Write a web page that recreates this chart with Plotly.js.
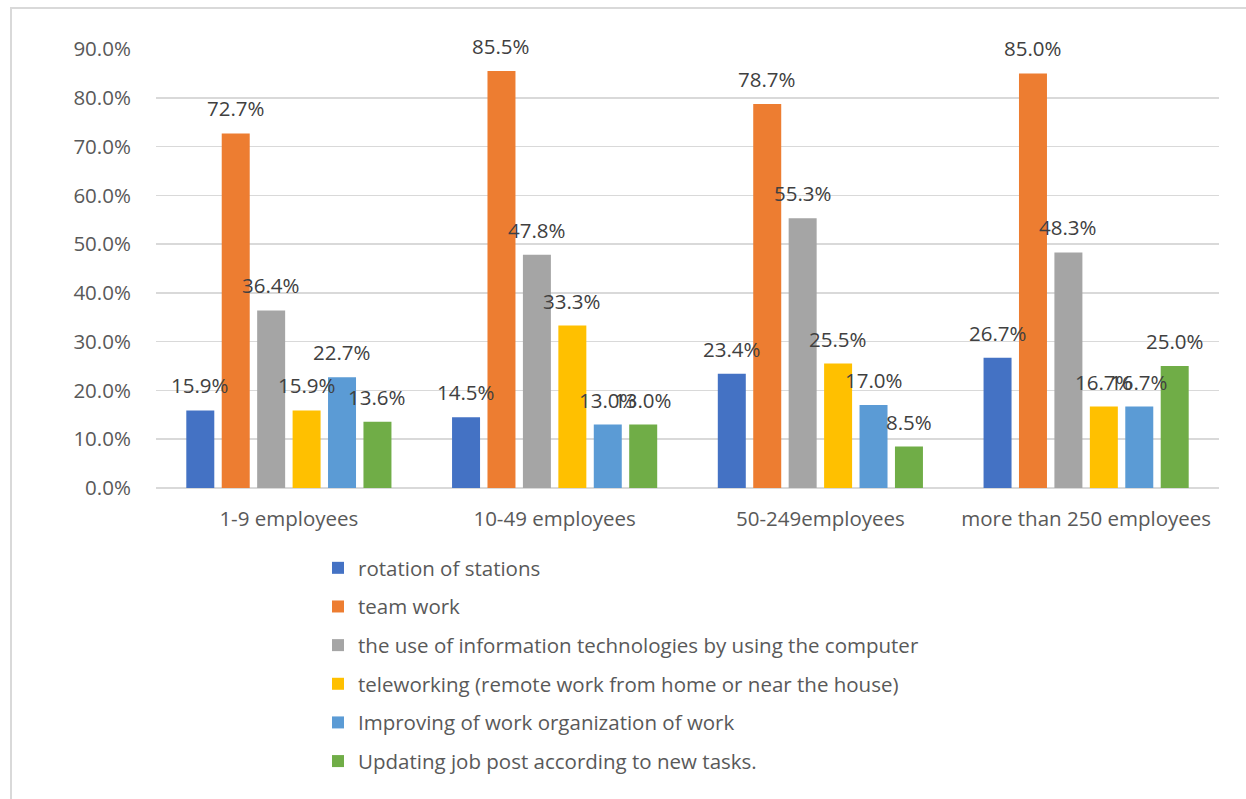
<!DOCTYPE html>
<html>
<head>
<meta charset="utf-8">
<script src="https://cdn.plot.ly/plotly-3.0.1.min.js"></script>
<style>
  html, body { margin: 0; padding: 0; background: #ffffff; }
  #frame { position: absolute; left: 10px; top: 7px; width: 1300px; height: 900px; border: 2px solid #d9d9d9; box-sizing: border-box; pointer-events: none; }
  #chart { position: absolute; left: 0; top: 0; width: 1246px; height: 799px; }
</style>
</head>
<body>
<div id="frame"></div>
<div id="chart"></div>
<script>
const categories = ["1-9 employees", "10-49 employees", "50-249employees", "more than 250 employees"];
const seriesNames = [
  "rotation of stations",
  "team work",
  "the use of information technologies by using the computer",
  "teleworking (remote work from home or near the house)",
  "Improving of work organization of work",
  "Updating job post according to new tasks."
];
const rotationOfStations = [15.9, 14.5, 23.4, 26.7];
const teamWork = [72.7, 85.5, 78.7, 85.0];
const informationTechnologies = [36.4, 47.8, 55.3, 48.3];
const teleworking = [15.9, 33.3, 25.5, 16.7];
const improvingWorkOrganization = [22.7, 13.0, 17.0, 16.7];
const updatingJobPost = [13.6, 13.0, 8.5, 25.0];
const seriesValues = [rotationOfStations, teamWork, informationTechnologies, teleworking, improvingWorkOrganization, updatingJobPost];
const seriesColors = ["#4472C4", "#ED7D31", "#A5A5A5", "#FFC000", "#5B9BD5", "#70AD47"];
const yTickValues = [0, 10, 20, 30, 40, 50, 60, 70, 80, 90];
const yTickLabels = ["0.0%", "10.0%", "20.0%", "30.0%", "40.0%", "50.0%", "60.0%", "70.0%", "80.0%", "90.0%"];

const FONT = '"Open Sans", "Liberation Sans", sans-serif';
const BARGAP = 0.2;
const BARGROUPGAP = 0.21;

const traces = seriesValues.map((vals, i) => ({
  type: 'bar',
  name: seriesNames[i],
  x: categories.map((c, j) => j),
  y: vals,
  marker: { color: seriesColors[i], line: { width: 0 } },
  legendgroup: 'g' + i,
  hoverinfo: 'none'
}));

const n = seriesValues.length;
const slot = (1 - BARGAP) / n;
const annotations = [];
seriesValues.forEach((vals, i) => {
  vals.forEach((v, j) => {
    annotations.push({
      x: j + (i - (n - 1) / 2) * slot,
      y: v,
      xref: 'x', yref: 'y',
      text: v.toFixed(1) + '%',
      showarrow: false,
      yanchor: 'middle',
      yshift: 25,
      font: { family: FONT, size: 20.5, color: '#404040' }
    });
  });
});

const layout = {
  width: 1246,
  height: 799,
  margin: { l: 156, r: 27, t: 49, b: 311 },
  paper_bgcolor: 'rgba(0,0,0,0)',
  plot_bgcolor: 'rgba(0,0,0,0)',
  barmode: 'group',
  bargap: BARGAP,
  bargroupgap: BARGROUPGAP,
  showlegend: true,
  font: { family: FONT, size: 20.5, color: '#595959' },
  xaxis: {
    type: 'linear',
    range: [-0.5, categories.length - 0.5],
    tickvals: categories.map((c, j) => j),
    ticktext: categories,
    tickangle: 0,
    automargin: false,
    showgrid: false,
    zeroline: false,
    showline: false,
    ticks: 'outside',
    ticklen: 12,
    tickcolor: 'rgba(0,0,0,0)',
    tickfont: { family: FONT, size: 20.5, color: '#595959' },
    fixedrange: true
  },
  yaxis: {
    range: [0, 90],
    tickvals: yTickValues,
    ticktext: yTickLabels,
    automargin: false,
    showgrid: true,
    gridcolor: '#d9d9d9',
    gridwidth: 1.5,
    zeroline: true,
    zerolinecolor: '#d9d9d9',
    zerolinewidth: 1.5,
    showline: false,
    ticks: 'outside',
    ticklen: 20,
    tickcolor: 'rgba(0,0,0,0)',
    tickfont: { family: FONT, size: 20.5, color: '#595959' },
    fixedrange: true
  },
  legend: {
    orientation: 'v',
    xref: 'paper',
    yref: 'paper',
    x: (318 - 156) / 1063,
    xanchor: 'left',
    y: (488 - 548) / 439,
    yanchor: 'top',
    traceorder: 'grouped',
    tracegroupgap: 9,
    bgcolor: 'rgba(0,0,0,0)',
    font: { family: FONT, size: 20.5, color: '#595959' },
    itemclick: false,
    itemdoubleclick: false
  },
  annotations: annotations
};

Plotly.newPlot('chart', traces, layout, { staticPlot: true, displayModeBar: false });
</script>
</body>
</html>
